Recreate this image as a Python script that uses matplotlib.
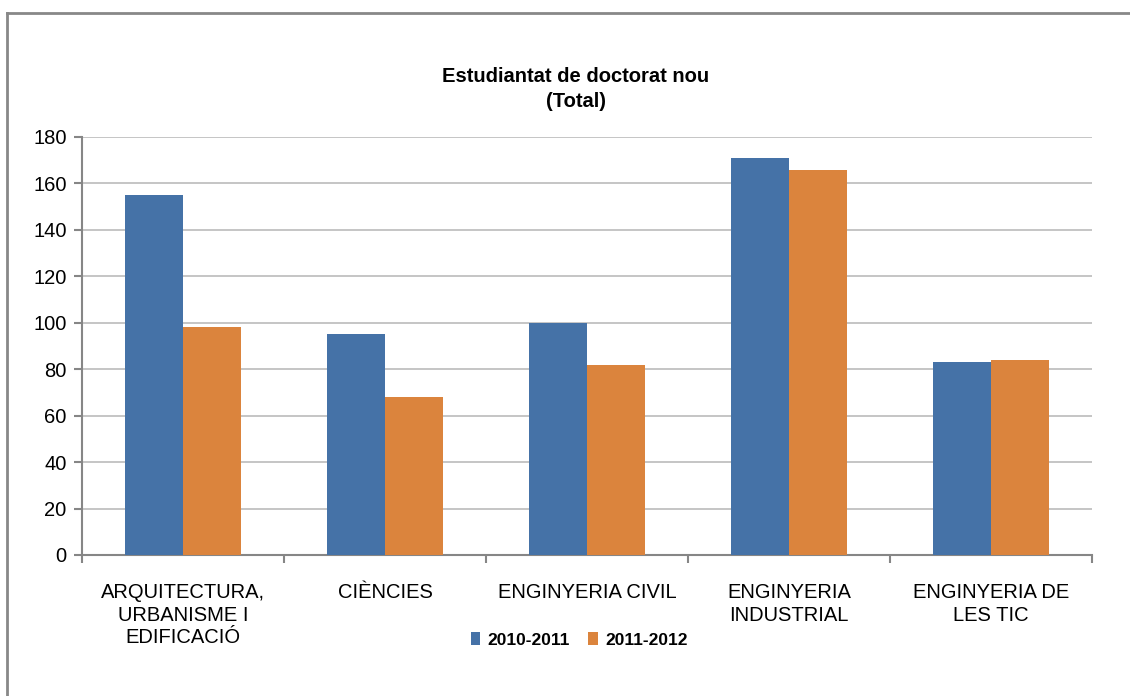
import matplotlib
matplotlib.use("Agg")
import matplotlib.pyplot as plt
from matplotlib.lines import Line2D
import numpy as np

categories = ["ARQUITECTURA,\nURBANISME I\nEDIFICACIÓ", "CIÈNCIES", "ENGINYERIA CIVIL",
              "ENGINYERIA\nINDUSTRIAL", "ENGINYERIA DE\nLES TIC"]
series_names = ["2010-2011", "2011-2012"]
values_2010 = [155, 95, 100, 171, 83]
values_2011 = [98, 68, 82, 166, 84]
yticks = [0, 20, 40, 60, 80, 100, 120, 140, 160, 180]

plt.rcParams['font.family'] = ['Liberation Sans', 'DejaVu Sans']

W, H = 1130, 696
fig = plt.figure(figsize=(W / 100, H / 100), dpi=100)
ax = fig.add_axes([82 / W, 1 - 555 / H, (1092 - 82) / W, (555 - 137) / H])

x = np.arange(len(categories))
bw = 0.285
b1 = ax.bar(x - bw / 2, values_2010, bw, color="#4572A7", label=series_names[0], zorder=3)
b2 = ax.bar(x + bw / 2, values_2011, bw, color="#DB843D", label=series_names[1], zorder=3)

ax.set_xlim(-0.5, len(categories) - 0.5)
ax.set_ylim(0, 180)
ax.set_yticks(yticks)
ax.set_yticklabels([str(v) for v in yticks], fontsize=14.5)
ax.yaxis.grid(True, color="#C0C0C0", linewidth=1.3, zorder=0)
ax.set_axisbelow(True)

ax.set_xticks(np.arange(len(categories) + 1) - 0.5)
ax.set_xticklabels([])
ax.set_xticks(x, minor=True)
ax.set_xticklabels(categories, minor=True, fontsize=14.5, linespacing=1.25)
ax.tick_params(axis='x', which='minor', length=0, pad=20)
ax.tick_params(axis='x', which='major', length=6, color="#868686", width=1.5, direction='out')
ax.tick_params(axis='y', length=6, color="#868686", width=1.5, direction='out', pad=5)

for s in ["top", "right"]:
    ax.spines[s].set_visible(False)
for s in ["left", "bottom"]:
    ax.spines[s].set_color("#868686")
    ax.spines[s].set_linewidth(1.5)

fig.text(576 / W, 1 - 89 / H, "Estudiantat de doctorat nou\n(Total)", ha="center", va="center",
         fontsize=14.5, fontweight="bold", linespacing=1.4)

leg = fig.legend(handles=[b1, b2], labels=series_names, loc="center", bbox_to_anchor=(579 / W, 1 - 640 / H),
                 ncol=2, frameon=False, prop={"weight": "bold", "size": 12.5},
                 handlelength=0.55, handleheight=0.7, handletextpad=0.4, columnspacing=1.1)

# outer frame (top and left edges visible)
fig.add_artist(Line2D([7 / W, 7 / W], [0, 1 - 13 / H], transform=fig.transFigure, color="#888888", linewidth=2))
fig.add_artist(Line2D([7 / W, 1], [1 - 13 / H, 1 - 13 / H], transform=fig.transFigure, color="#888888", linewidth=2))

fig.savefig("out.png", dpi=100)
